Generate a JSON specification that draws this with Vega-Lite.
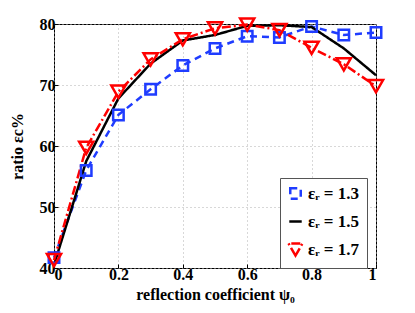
{
  "$schema": "https://vega.github.io/schema/vega-lite/v6.json",
  "autosize": "none",
  "width": 322,
  "height": 244,
  "padding": {"left": 54, "top": 24, "right": 39, "bottom": 45},
  "background": "white",
  "config": {
    "font": "Liberation Serif",
    "view": {"stroke": "black", "strokeWidth": 1},
    "axis": {
      "labelFont": "Liberation Serif", "labelFontWeight": "bold", "labelFontSize": 16, "labelColor": "black",
      "titleFont": "Liberation Serif", "titleFontWeight": "bold", "titleFontSize": 16, "titleColor": "black",
      "grid": true, "gridColor": "#b0b0b0", "gridDash": [1, 3], "gridWidth": 1,
      "domain": false, "tickColor": "black", "tickSize": -4, "tickWidth": 1
    }
  },
  "data": {"values": [
    {"x": 0, "y": 41.7, "s": "εᵣ = 1.3"}, {"x": 0.1, "y": 56, "s": "εᵣ = 1.3"}, {"x": 0.2, "y": 65.1, "s": "εᵣ = 1.3"},
    {"x": 0.3, "y": 69.3, "s": "εᵣ = 1.3"}, {"x": 0.4, "y": 73.2, "s": "εᵣ = 1.3"}, {"x": 0.5, "y": 76, "s": "εᵣ = 1.3"},
    {"x": 0.6, "y": 78, "s": "εᵣ = 1.3"}, {"x": 0.7, "y": 77.8, "s": "εᵣ = 1.3"}, {"x": 0.8, "y": 79.6, "s": "εᵣ = 1.3"},
    {"x": 0.9, "y": 78.2, "s": "εᵣ = 1.3"}, {"x": 1.0, "y": 78.6, "s": "εᵣ = 1.3"},
    {"x": 0, "y": 40.5, "s": "εᵣ = 1.5"}, {"x": 0.1, "y": 57.5, "s": "εᵣ = 1.5"}, {"x": 0.2, "y": 67.8, "s": "εᵣ = 1.5"},
    {"x": 0.3, "y": 73.5, "s": "εᵣ = 1.5"}, {"x": 0.4, "y": 77.3, "s": "εᵣ = 1.5"}, {"x": 0.5, "y": 78.2, "s": "εᵣ = 1.5"},
    {"x": 0.6, "y": 79.7, "s": "εᵣ = 1.5"}, {"x": 0.7, "y": 79.8, "s": "εᵣ = 1.5"}, {"x": 0.8, "y": 79.5, "s": "εᵣ = 1.5"},
    {"x": 0.9, "y": 76, "s": "εᵣ = 1.5"}, {"x": 1.0, "y": 71.6, "s": "εᵣ = 1.5"},
    {"x": 0, "y": 41.3, "s": "εᵣ = 1.7"}, {"x": 0.1, "y": 59.7, "s": "εᵣ = 1.7"}, {"x": 0.2, "y": 68.9, "s": "εᵣ = 1.7"},
    {"x": 0.3, "y": 74.2, "s": "εᵣ = 1.7"}, {"x": 0.4, "y": 77.5, "s": "εᵣ = 1.7"}, {"x": 0.5, "y": 79.3, "s": "εᵣ = 1.7"},
    {"x": 0.6, "y": 79.9, "s": "εᵣ = 1.7"}, {"x": 0.7, "y": 79, "s": "εᵣ = 1.7"}, {"x": 0.8, "y": 76.1, "s": "εᵣ = 1.7"},
    {"x": 0.9, "y": 73.4, "s": "εᵣ = 1.7"}, {"x": 1.0, "y": 69.8, "s": "εᵣ = 1.7"}
  ]},
  "encoding": {
    "x": {"field": "x", "type": "quantitative", "scale": {"domain": [0, 1], "nice": false},
          "axis": {"values": [0, 0.2, 0.4, 0.6, 0.8, 1], "format": "~g", "title": "reflection coefficient ψ₀", "titlePadding": 4, "labelPadding": 2}},
    "y": {"field": "y", "type": "quantitative", "scale": {"domain": [40, 80], "nice": false, "zero": false},
          "axis": {"values": [40, 50, 60, 70, 80], "title": "ratio εc%", "titlePadding": 14, "labelPadding": 3}},
    "color": {"field": "s", "type": "nominal",
              "scale": {"domain": ["εᵣ = 1.3", "εᵣ = 1.5", "εᵣ = 1.7"], "range": ["#1f3cff", "black", "#ff0000"]},
              "legend": {"orient": "none", "legendX": 226, "legendY": 154, "title": null,
                         "fillColor": "white", "strokeColor": "#555", "padding": 7,
                         "labelFont": "Liberation Serif", "labelFontWeight": "bold", "labelFontSize": 17, "labelColor": "black",
                         "symbolStrokeWidth": 2.5, "symbolSize": 150, "rowPadding": 8, "labelOffset": 4,
                         "encode": {"symbols": {"update": {"strokeDash": {"value": []}}}}}}
  },
  "layer": [
    {
      "mark": {"type": "line", "strokeWidth": 2.5},
      "encoding": {
        "strokeDash": {"field": "s", "type": "nominal", "legend": null,
                       "scale": {"domain": ["εᵣ = 1.3", "εᵣ = 1.5", "εᵣ = 1.7"], "range": [[7, 5], [1, 0], [9, 3, 2, 3]]}}
      }
    },
    {
      "transform": [{"filter": "datum.s != 'εᵣ = 1.5'"}],
      "mark": {"type": "point", "filled": false, "strokeWidth": 2.5, "size": 130, "opacity": 1},
      "encoding": {
        "shape": {"field": "s", "type": "nominal",
                  "scale": {"domain": ["εᵣ = 1.3", "εᵣ = 1.5", "εᵣ = 1.7"], "range": ["square", "stroke", "triangle-down"]}},
        "size": {"field": "s", "type": "nominal", "legend": null,
                 "scale": {"domain": ["εᵣ = 1.3", "εᵣ = 1.5", "εᵣ = 1.7"], "range": [110, 200, 220]}}
      }
    }
  ]
}
